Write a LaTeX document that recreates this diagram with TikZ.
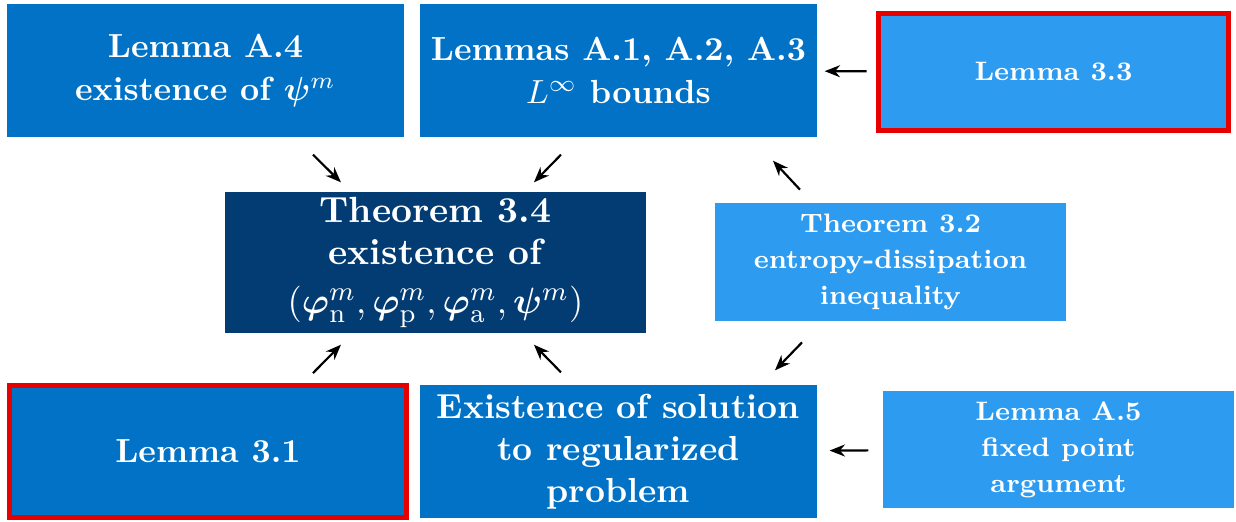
\documentclass[tikz,border=0pt]{standalone}
\usepackage{bm}
\usetikzlibrary{arrows.meta}
\definecolor{MidBlue}{RGB}{1,114,197}
\definecolor{LightBlue}{RGB}{45,155,240}
\definecolor{NavyBlue}{RGB}{2,60,115}
\definecolor{KeyRed}{RGB}{230,0,0}

\begin{document}
\begin{tikzpicture}[
    box/.style={fill=MidBlue, text=white, font=\bfseries, align=center,
        inner sep=0pt, minimum width=4.175cm, minimum height=1.4cm},
    lightbox/.style={box, fill=LightBlue, font=\linespread{1.14}\footnotesize\bfseries,
        minimum width=3.69cm, minimum height=1.235cm},
    keybox/.style={draw=KeyRed, line width=1.5pt},
    arr/.style={-{Stealth[length=4.6pt, width=3.6pt]}, line width=0.65pt, black},
]
\useasboundingbox (0,0) rectangle (13,-5.48);

% ---- top row ----
\node[box] (lemA4) at (2.161,-0.741) {Lemma A.4\\[1pt]existence of $\bm{\psi}^m$};
\node[box] (lemA1) at (6.505,-0.741) {Lemmas A.1, A.2, A.3\\[1pt]$L^\infty$ bounds};
\node[lightbox, keybox, minimum height=1.231cm] (lem33) at (11.080,-0.757) {Lemma 3.3};

% ---- middle row ----
\node[box, fill=NavyBlue, minimum width=4.428cm, minimum height=1.483cm,
      font=\fontsize{10.9pt}{12.6pt}\selectfont\bfseries] (thm34) at (4.580,-2.761)
    {Theorem 3.4\\existence of\\[2pt]$(\bm{\varphi}^m_{\mathrm{n}},\bm{\varphi}^m_{\mathrm{p}},\bm{\varphi}^m_{\mathrm{a}},\bm{\psi}^m)$};
\node[lightbox] (thm32) at (9.366,-2.756) {Theorem 3.2\\entropy-dissipation\\inequality};

% ---- bottom row ----
\node[box, keybox, minimum height=1.388cm] (lem31) at (2.188,-4.749) {Lemma 3.1};
\node[box, font=\fontsize{10.4pt}{12.6pt}\selectfont\bfseries] (exist) at (6.505,-4.749)
    {Existence of solution\\to regularized\\problem};
\node[lightbox] (lemA5) at (11.133,-4.728) {Lemma A.5\\fixed point\\argument};

% arrows
\draw[arr] ([shift={(1.131,-0.179)}]lemA4.south) -- ([shift={(-0.994,0.095)}]thm34.north);
\draw[arr] ([shift={(-0.605,-0.179)}]lemA1.south) -- ([shift={(1.036,0.095)}]thm34.north);
\draw[arr] ([shift={(1.104,0.105)}]lem31.north) -- ([shift={(-0.994,-0.116)}]thm34.south);
\draw[arr] ([shift={(-0.605,0.126)}]exist.north) -- ([shift={(1.036,-0.116)}]thm34.south);
\draw[arr] ([shift={(-0.952,0.137)}]thm32.north) -- ([shift={(1.625,-0.242)}]lemA1.south);
\draw[arr] ([shift={(-0.931,-0.221)}]thm32.south) -- ([shift={(1.646,0.147)}]exist.north);
\draw[arr, shorten <=0.095cm, shorten >=0.074cm] (lem33) -- (lemA1);
\draw[arr, shorten <=0.147cm, shorten >=0.126cm] (lemA5) -- (exist);

\end{tikzpicture}
\end{document}
